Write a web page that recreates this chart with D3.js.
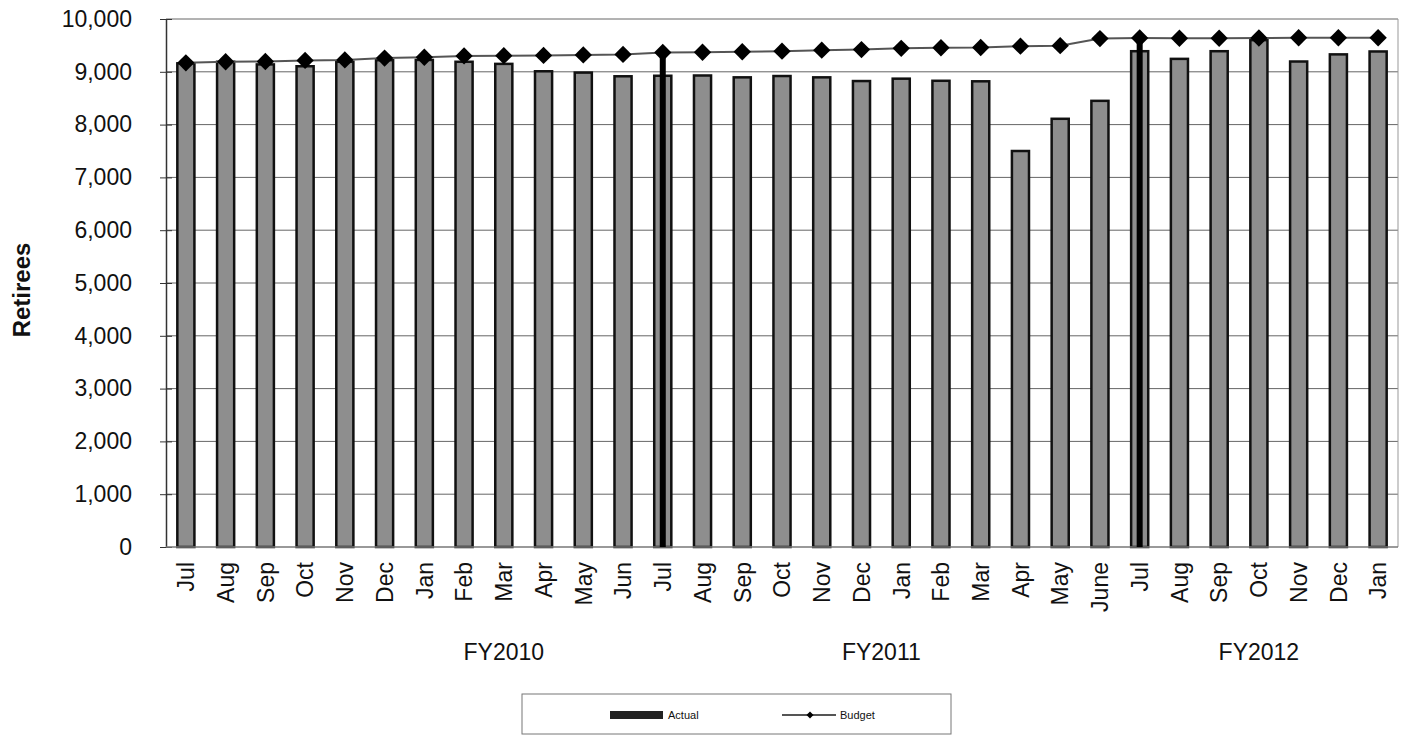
<!DOCTYPE html>
<html>
<head>
<meta charset="utf-8">
<script src="https://cdn.jsdelivr.net/npm/d3@7"></script>
<style>
body { margin: 0; background: #fff; }
text { font-family: "Liberation Sans", Arial, sans-serif; fill: #111; }
</style>
</head>
<body>
<script>
var w = 1411;
var h = 736;

// data
var months = ["Jul","Aug","Sep","Oct","Nov","Dec","Jan","Feb","Mar","Apr","May","Jun",
              "Jul","Aug","Sep","Oct","Nov","Dec","Jan","Feb","Mar","Apr","May","June",
              "Jul","Aug","Sep","Oct","Nov","Dec","Jan"];
var actual = [9160,9190,9140,9105,9190,9220,9225,9190,9150,9010,8985,8915,
              8925,8930,8895,8920,8895,8825,8870,8830,8820,7500,8110,8450,
              9390,9245,9390,9600,9195,9330,9385];
var budget = [9170,9190,9195,9215,9225,9260,9275,9300,9305,9310,9320,9330,
              9365,9370,9380,9390,9410,9420,9445,9455,9460,9485,9495,9630,
              9640,9635,9635,9640,9645,9645,9645];
var fiscalYears = ["FY2010","FY2011","FY2012"];
var fyStart = [0, 12, 24];
var yTicks = [0,1000,2000,3000,4000,5000,6000,7000,8000,9000,10000];

var pLeft = 166, pRight = 1398, pTop = 19, pBottom = 547;

var svg = d3.select("body")
    .append("svg")
    .attr("width", w)
    .attr("height", h);

var x = d3.scaleBand()
    .domain(d3.range(months.length))
    .range([pLeft, pRight])
    .paddingInner(0.57)
    .paddingOuter(0.285);

var y = d3.scaleLinear()
    .domain([0, 10000])
    .range([pBottom, pTop]);

function cx(i){ return x(i) + x.bandwidth()/2; }

// gridlines
svg.append("g")
    .selectAll("line")
    .data(yTicks.slice(1))
    .enter()
    .append("line")
    .attr("x1", pLeft).attr("x2", pRight)
    .attr("y1", function(d){ return y(d); })
    .attr("y2", function(d){ return y(d); })
    .attr("stroke", "#666")
    .attr("stroke-width", 1);

// right border
svg.append("line")
    .attr("x1", pRight).attr("x2", pRight)
    .attr("y1", pTop).attr("y2", pBottom)
    .attr("stroke", "#999");

// y axis
var yAxis = d3.axisLeft(y)
    .tickValues(yTicks)
    .tickFormat(d3.format(","))
    .tickSizeInner(6)
    .tickSizeOuter(0)
    .tickPadding(28);

var gy = svg.append("g")
    .attr("transform", "translate(" + pLeft + ",0)")
    .call(yAxis);
gy.select(".domain").attr("stroke", "#333").attr("stroke-width", 1.5);
gy.selectAll(".tick line").attr("stroke", "#333").attr("x2", -6).attr("x1", 6);
gy.selectAll("text")
    .style("font-size", "23px")
    .attr("fill", "#111");

// bars
svg.append("g")
    .selectAll("rect")
    .data(actual)
    .enter()
    .append("rect")
    .attr("x", function(d,i){ return x(i); })
    .attr("y", function(d){ return y(d); })
    .attr("width", x.bandwidth())
    .attr("height", function(d){ return y(0) - y(d); })
    .attr("fill", "#8e8e8e")
    .attr("stroke", "#111")
    .attr("stroke-width", 2.5);

// x axis baseline
svg.append("line")
    .attr("x1", pLeft).attr("x2", pRight)
    .attr("y1", pBottom).attr("y2", pBottom)
    .attr("stroke", "#777")
    .attr("stroke-width", 1.5);

// fiscal year separators
svg.append("g")
    .selectAll("rect")
    .data(fyStart.slice(1))
    .enter()
    .append("rect")
    .attr("x", function(i){ return cx(i) - 3; })
    .attr("y", function(i){ return y(budget[i]); })
    .attr("width", 6)
    .attr("height", function(i){ return y(0) - y(budget[i]); })
    .attr("fill", "#000");

// budget line
var line = d3.line()
    .x(function(d,i){ return cx(i); })
    .y(function(d){ return y(d); });

svg.append("path")
    .datum(budget)
    .attr("d", line)
    .attr("fill", "none")
    .attr("stroke", "#555")
    .attr("stroke-width", 2);

svg.append("g")
    .selectAll("path")
    .data(budget)
    .enter()
    .append("path")
    .attr("d", d3.symbol().type(d3.symbolSquare).size(150))
    .attr("transform", function(d,i){
        return "translate(" + cx(i) + "," + y(d) + ") rotate(45)";
    })
    .attr("fill", "#000");

// month labels
svg.append("g")
    .selectAll("text")
    .data(months)
    .enter()
    .append("text")
    .attr("transform", function(d,i){
        return "translate(" + cx(i) + ",562) rotate(-90)";
    })
    .attr("text-anchor", "end")
    .attr("dy", "0.36em")
    .style("font-size", "23px")
    .text(function(d){ return d; });

// fiscal year labels
var fyAt = [8, 17.5, 27];
svg.append("g")
    .selectAll("text")
    .data(fiscalYears)
    .enter()
    .append("text")
    .attr("x", function(d,i){ return pLeft + (fyAt[i] + 0.5) * x.step(); })
    .attr("y", 660)
    .attr("text-anchor", "middle")
    .style("font-size", "23px")
    .text(function(d){ return d; });

// y title
svg.append("text")
    .attr("transform", "translate(30,290) rotate(-90)")
    .attr("text-anchor", "middle")
    .style("font-size", "24px")
    .style("font-weight", "bold")
    .text("Retirees");

// legend
var lg = svg.append("g");
lg.append("rect")
    .attr("x", 522).attr("y", 694)
    .attr("width", 429).attr("height", 40)
    .attr("fill", "#fff")
    .attr("stroke", "#777");
lg.append("rect")
    .attr("x", 610).attr("y", 711)
    .attr("width", 53).attr("height", 8)
    .attr("fill", "#222");
lg.append("text")
    .attr("x", 668).attr("y", 719)
    .style("font-size", "11px")
    .text("Actual");
lg.append("line")
    .attr("x1", 782).attr("x2", 836)
    .attr("y1", 715).attr("y2", 715)
    .attr("stroke", "#555")
    .attr("stroke-width", 2);
lg.append("path")
    .attr("d", d3.symbol().type(d3.symbolSquare).size(25))
    .attr("transform", "translate(810,715) rotate(45)")
    .attr("fill", "#000");
lg.append("text")
    .attr("x", 840).attr("y", 719)
    .style("font-size", "11px")
    .text("Budget");
</script>
</body>
</html>
